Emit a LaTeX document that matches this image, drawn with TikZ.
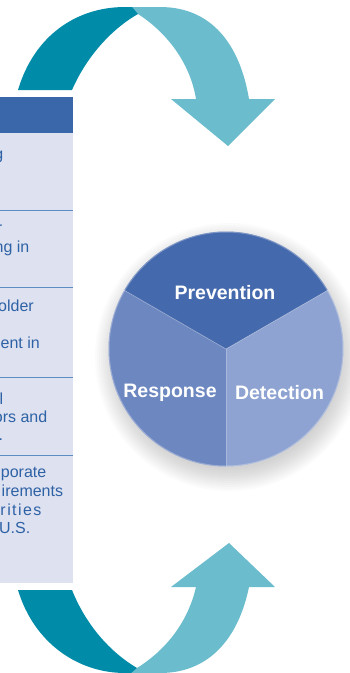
\documentclass[tikz,border=0pt]{standalone}
\usepackage{fontspec}
\setmainfont{Liberation Sans}

\definecolor{tealdark}{HTML}{008CA8}
\definecolor{teallight}{HTML}{6BBCCC}
\definecolor{headblue}{HTML}{3A67AA}
\definecolor{rowfill}{HTML}{DEE1EF}
\definecolor{ruleblue}{HTML}{5B8CC4}
\definecolor{textblue}{HTML}{2E62A6}
\definecolor{prevfill}{HTML}{4569AD}
\definecolor{respfill}{HTML}{6D87C1}
\definecolor{detfill}{HTML}{8EA3D1}

\tikzset{
  cell/.style={anchor=base east, inner sep=0pt, text=textblue,
    font=\fontsize{16}{19}\selectfont},
  sector/.style={inner sep=0pt, text=white,
    font=\fontsize{19.5}{22}\selectfont\bfseries},
}

\begin{document}
\begin{tikzpicture}[x=1pt,y=-1pt]
\useasboundingbox (0,0) rectangle (349,673);

% top arrow
\fill[teallight] (128,7) -- (160,7) .. controls (212,7) and (240,45) .. (249,99)
  -- (275,99) -- (228,146) -- (171,99) -- (196,99)
  .. controls (190,62) and (166,32) .. (138,14) -- cycle;
\fill[tealdark] (18,90) .. controls (34,36) and (76,7) .. (125,7) -- (132,7)
  -- (138,14) .. controls (110,30) and (86,58) .. (72,90) -- cycle;

% bottom arrow
\fill[teallight] (130,673) -- (160,673) .. controls (208,673) and (238,640) .. (249,587)
  -- (275,587) -- (229,543) -- (171,587) -- (196,587)
  .. controls (188,622) and (166,650) .. (137,668) -- cycle;
\fill[tealdark] (18,590) .. controls (34,643) and (78,673) .. (125,673) -- (131,673)
  -- (137,668) .. controls (110,652) and (86,625) .. (72,590) -- cycle;

% table
\fill[rowfill] (0,133) rectangle (73,583);
\fill[headblue] (0,97) rectangle (73,133);
\foreach \y in {210,287,377,455}
  \draw[ruleblue, line width=0.8pt] (0,\y) -- (73,\y);

\begin{scope}
\clip (0,133) rectangle (73,583);
\node[cell] (rowa) at (3.5,159) {g};
\node[cell] (rowb) at (2.5,233) {r};
\node[cell] (rowc) at (29.5,252) {ng in};
\node[cell] (rowd) at (34,311) {older};
\node[cell] (rowe) at (40,348) {ent in};
\node[cell] (rowf) at (3.5,404) {l};
\node[cell] (rowg) at (47.5,422) {ors and};
\node[cell] (rowh) at (3.2,440) {.};
\node[cell] (rowi) at (46.5,477) {porate};
\node[cell] (rowj) at (63.3,496) {irements};
\node[cell, anchor=base west] (rowk) at (0.3,515) {\addfontfeature{LetterSpace=9}rities};
\node[cell] (rowl) at (30.5,533) {U.S.};
\end{scope}

% wheel
\coordinate (hub) at (226,349);
\foreach \i in {1,...,12}
  \fill[black, opacity=0.016] (229,357) circle (110+2*\i);
\fill[prevfill] (hub) -- ++(-150:117.5) arc (-150:-30:117.5) -- cycle;
\fill[detfill] (hub) -- ++(-30:117.5) arc (-30:90:117.5) -- cycle;
\fill[respfill] (hub) -- ++(90:117.5) arc (90:210:117.5) -- cycle;
\draw[white, opacity=0.25, line width=0.8pt] (hub) -- ++(-150:117.5);
\draw[white, opacity=0.25, line width=0.8pt] (hub) -- ++(-30:117.5);
\draw[white, opacity=0.25, line width=0.8pt] (hub) -- ++(90:117.5);
\draw[white, opacity=0.3, line width=1pt] (hub) circle (117);

\node[sector] (prevention) at (225,293) {Prevention};
\node[sector] (response) at (170,393) {Response};
\node[sector] (detection) at (279.5,393) {Detection};
\end{tikzpicture}
\end{document}
